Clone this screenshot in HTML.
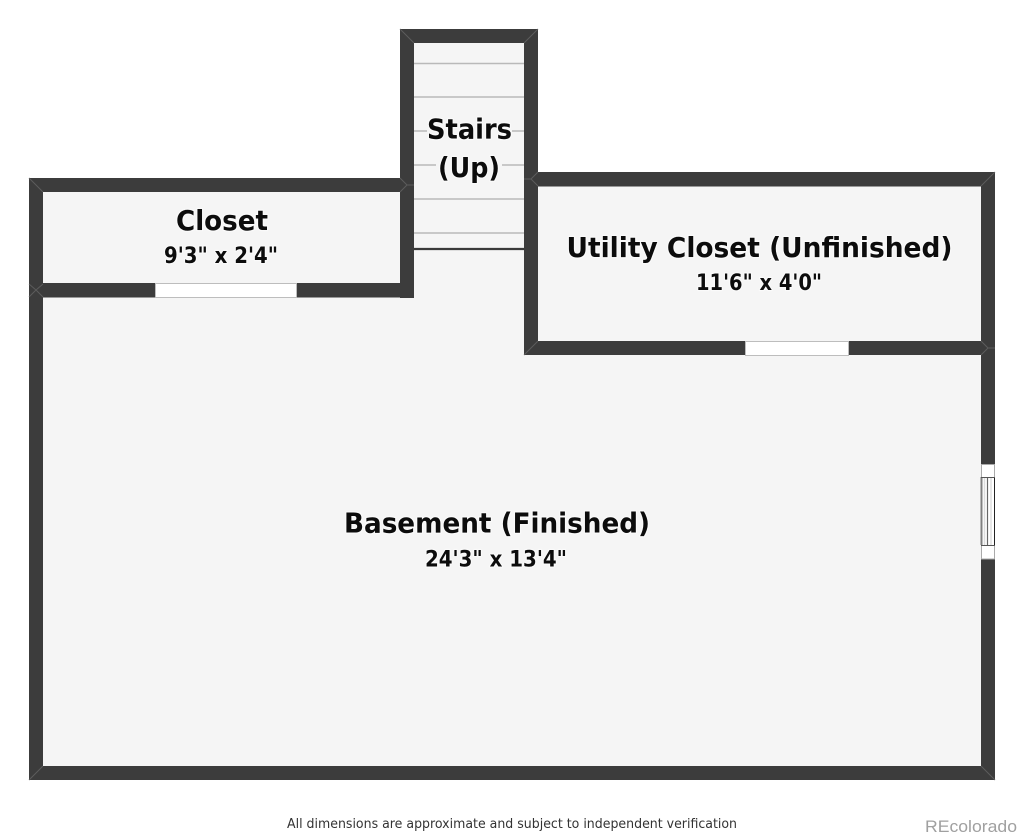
<!DOCTYPE html>
<html><head><meta charset="utf-8"><style>
html,body{margin:0;padding:0;background:#fff;width:1024px;height:838px;overflow:hidden}
svg{display:block;filter:blur(0.35px)}
.t{font-family:"DejaVu Sans","Liberation Sans",sans-serif;font-weight:bold;fill:#0c0c0c;paint-order:stroke;stroke:#fff;stroke-width:2.5px;stroke-opacity:.5;stroke-linejoin:round}
</style></head><body>
<svg width="1024" height="838" viewBox="0 0 1024 838" xmlns="http://www.w3.org/2000/svg">
<rect width="1024" height="838" fill="#fff"/>
<!-- floors -->
<g fill="#f5f5f5">
<rect x="36" y="185" width="372" height="105"/>
<rect x="36" y="290" width="950" height="484"/>
<rect x="407" y="36" width="124" height="320"/>
<rect x="531" y="179" width="457" height="170"/>
</g>
<!-- stair treads -->
<g stroke="#b9b9b9" stroke-width="1.5">
<path d="M414 63.5H524M414 97H524M414 131H427M512 131H524M414 165H436M502 165H524M414 199H524M414 233H524"/>
</g>
<path d="M414 249H524" stroke="#3a3a3a" stroke-width="2.2"/>
<!-- walls -->
<g fill="#3c3c3c">
<rect x="400" y="29" width="138" height="14"/>
<rect x="400" y="29" width="14" height="269"/>
<rect x="524" y="29" width="14" height="326"/>
<rect x="29" y="178" width="385" height="14"/>
<rect x="29" y="178" width="14" height="602"/>
<rect x="29" y="283" width="385" height="14.5"/>
<rect x="524" y="172" width="471" height="14.5"/>
<rect x="981" y="172" width="14" height="608"/>
<rect x="524" y="341" width="471" height="14"/>
<rect x="29" y="766" width="966" height="14"/>
</g>
<!-- openings -->
<g fill="#fff" stroke="#bdbdbd" stroke-width="1">
<rect x="155.5" y="283.5" width="141" height="14"/>
<rect x="745.5" y="341.5" width="103" height="14"/>
</g>
<!-- window -->
<rect x="981" y="464" width="14" height="95" fill="#fff"/>
<g fill="none">
<rect x="981.5" y="464.5" width="13" height="13" stroke="#aaa" stroke-width="1"/>
<rect x="981.5" y="545.5" width="13" height="13.5" stroke="#aaa" stroke-width="1"/>
<path d="M984.5 478V545M991 478V545" stroke="#ddd" stroke-width="1.5"/>
<path d="M981.5 477V545" stroke="#808080" stroke-width="2"/>
<path d="M994.5 477V545" stroke="#222" stroke-width="1"/>
<path d="M987.5 477V545" stroke="#666" stroke-width="1.2"/>
<path d="M981 477.5H995M981 545.5H995" stroke="#555" stroke-width="1"/>
</g>
<!-- miter lines -->
<g stroke="#5c5c5c" stroke-width="1" fill="none">
<path d="M400 29L414 43M538 29L524 43M29 178L43 192M995 172L981 186M29 780L43 766M995 780L981 766"/>
<path d="M29 284L36 290L29 297M36 290L43 284M36 290L43 297"/>
<path d="M400 178L407 185L400 192M407 185L414 185"/>
<path d="M538 172L531 179L538 186M524 179L531 179"/>
<path d="M524 355L538 341M995 348L988 348L981 341M988 348L981 355"/>
</g>
<!-- labels -->
<text class="t" x="427" y="138.5" font-size="28" textLength="85" lengthAdjust="spacingAndGlyphs">Stairs</text>
<text class="t" x="438" y="177" font-size="28" textLength="62" lengthAdjust="spacingAndGlyphs">(Up)</text>
<text class="t" x="176" y="230" font-size="28" textLength="92" lengthAdjust="spacingAndGlyphs">Closet</text>
<text class="t" x="164" y="263" font-size="22.5" textLength="114" lengthAdjust="spacingAndGlyphs">9'3" x 2'4"</text>
<text class="t" x="566.5" y="257" font-size="28" textLength="386" lengthAdjust="spacingAndGlyphs">Utility Closet (Unfinished)</text>
<text class="t" x="696" y="290" font-size="22.5" textLength="126" lengthAdjust="spacingAndGlyphs">11'6" x 4'0"</text>
<text class="t" x="344" y="532.5" font-size="28" textLength="306" lengthAdjust="spacingAndGlyphs">Basement (Finished)</text>
<text class="t" x="425" y="566.5" font-size="22.5" textLength="142" lengthAdjust="spacingAndGlyphs">24'3" x 13'4"</text>
<text x="287" y="828" font-family="'DejaVu Sans','Liberation Sans',sans-serif" font-size="13" fill="#333" textLength="450" lengthAdjust="spacingAndGlyphs">All dimensions are approximate and subject to independent verification</text>
<text x="925" y="832" font-family="'Liberation Sans',sans-serif" font-size="16.5" fill="#a0a0a0" textLength="92" lengthAdjust="spacingAndGlyphs">REcolorado</text>
</svg>
</body></html>
